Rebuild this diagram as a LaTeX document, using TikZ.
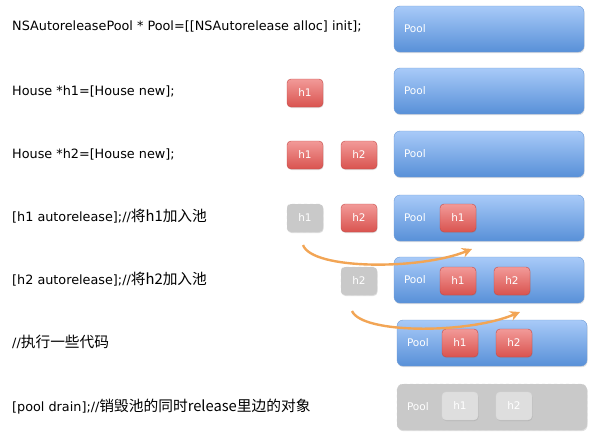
\documentclass[tikz,border=0pt]{standalone}
\usepackage{fontspec}
\setmainfont{DejaVu Sans}
\newfontfamily\cjk[Scale=1.15]{Noto Sans CJK SC}
\usetikzlibrary{arrows.meta, shadows, positioning}
\definecolor{poolTop}{HTML}{A8CAF8}
\definecolor{poolBot}{HTML}{5890D8}
\definecolor{poolLine}{HTML}{6E9BD6}
\definecolor{objTop}{HTML}{F29A98}
\definecolor{objBot}{HTML}{D9534F}
\definecolor{objLine}{HTML}{C44A47}
\definecolor{ghostFill}{HTML}{C9C9C9}
\definecolor{ghostLight}{HTML}{DEDEDE}
\definecolor{flowColor}{HTML}{F2A555}
\tikzset{
  code/.style={anchor=west, inner sep=0pt, font=\fontsize{12.8}{14}\selectfont},
  poolbox/.style={
    rectangle, rounded corners=6pt, draw=poolLine, top color=poolTop, bottom color=poolBot,
    minimum width=190pt, minimum height=46pt,
    drop shadow={opacity=0.25, shadow xshift=0.6pt, shadow yshift=-1.2pt}
  },
  objbox/.style={
    rectangle, rounded corners=4pt, draw=objLine, top color=objTop, bottom color=objBot,
    minimum width=36pt, minimum height=28pt, text=white, font=\fontsize{10.5}{12}\selectfont,
    drop shadow={opacity=0.25, shadow xshift=0.5pt, shadow yshift=-1pt}
  },
  ghostbox/.style={objbox, draw=gray!40, dashed, top color=ghostFill, bottom color=ghostFill},
  ghostpool/.style={poolbox, draw=gray!40, dashed, top color=ghostFill, bottom color=ghostFill},
  lightbox/.style={objbox, draw=gray!30, top color=ghostLight, bottom color=ghostLight},
  poollabel/.style={text=white, inner sep=0pt, anchor=west, font=\fontsize{10.5}{12}\selectfont},
  flow/.style={-{Stealth[length=10pt, width=10pt]}, draw=flowColor, line width=2.4pt}
}

\begin{document}
\begin{tikzpicture}[x=1pt, y=-1pt]
    \useasboundingbox (0,0) rectangle (598,445);
    
    % code lines
    \node[code] (c1) at (12,26) {NSAutoreleasePool * Pool=[[NSAutorelease alloc] init];};
    \node[code] (c2) at (12,91) {House *h1=[House new];};
    \node[code] (c3) at (12,154) {House *h2=[House new];};
    \node[code] (c4) at (12,216) {[h1 autorelease];//\cjk{将}h1\cjk{加入池}};
    \node[code] (c5) at (12,279) {[h2 autorelease];//\cjk{将}h2\cjk{加入池}};
    \node[code] (c6) at (12,342) {//\cjk{执行一些代码}};
    \node[code] (c7) at (12,407) {[pool drain];//\cjk{销毁池的同时}release\cjk{里边的对象}};
    
    % pools
    \node[poolbox] (pool1) at (489,29) {};
    \node[poolbox] (pool2) at (489,91) {};
    \node[poolbox] (pool3) at (489,154) {};
    \node[poolbox] (pool4) at (489,218) {};
    \node[poolbox] (pool5) at (489,280) {};
    \node[poolbox] (pool6) at (492,343) {};
    \node[ghostpool] (pool7) at (492,407) {};
    \foreach \i in {1,...,7} {
      \node[poollabel, right=10pt of pool\i.west] (lab\i) {Pool};
    }
    
    % objects
    \node[objbox] (h1b) at (305,93) {h1};
    \node[objbox] (h1c) at (305,155) {h1};
    \node[objbox] (h2c) at (359,155) {h2};
    \node[ghostbox] (h1d) at (305,218) {h1};
    \node[objbox] (h2d) at (359,218) {h2};
    \node[objbox] (p1d) at (458,218) {h1};
    \node[ghostbox] (h2e) at (359,281) {h2};
    \node[objbox] (p1e) at (458,281) {h1};
    \node[objbox] (p2e) at (512,281) {h2};
    \node[objbox] (p1f) at (460,343) {h1};
    \node[objbox] (p2f) at (514,343) {h2};
    \node[lightbox] (p1g) at (460,406) {h1};
    \node[lightbox] (p2g) at (514,406) {h2};
    
    % moves into the pool
    \coordinate (m1s) at (303,245);
    \coordinate (m1e) at (472,249);
    \coordinate (m2s) at (352,311);
    \coordinate (m2e) at (520,312);
    \draw[flow] (m1s) .. controls (312,270) and (420,270) .. (m1e);
    \draw[flow] (m2s) .. controls (362,334) and (468,334) .. (m2e);
    
\end{tikzpicture}
\end{document}
